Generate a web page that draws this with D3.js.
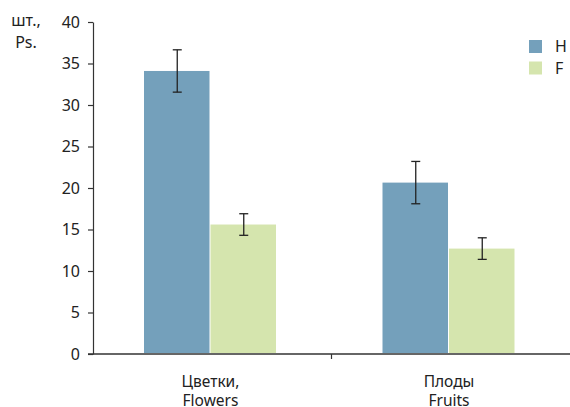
<!DOCTYPE html>
<html lang="ru">
<head>
    <meta charset="UTF-8">
    <title>Цветки / Плоды</title>
    <script src="https://d3js.org/d3.v7.min.js"></script>
    <style>
      body { margin: 0; background: #fff; }
      text { font-family: "Noto Sans", "Open Sans", sans-serif; fill: #222; }
    </style>
</head>
<body>
<div class="chart"></div>
<script>
  const categories = [["Цветки,", "Flowers"], ["Плоды", "Fruits"]];
  const series = ["H", "F"];
  const means = { H: [34.1, 20.65], F: [15.6, 12.7] };
  const errs = { H: [2.55, 2.55], F: [1.3, 1.3] };
  const yTicks = [0, 5, 10, 15, 20, 25, 30, 35, 40];
  const colors = { H: "#74a0bb", F: "#d5e5ae" };

  const W = 570, H = 407;
  const m = { left: 93, top: 22, bottom: 354 };

  const svg = d3.select('.chart').append('svg').attr('width', W).attr('height', H);

  const y = d3.scaleLinear().domain([0, 40]).range([m.bottom, m.top]);
  const x0 = d3.scaleBand().domain(categories.map(c => c[1])).range([m.left, W]);
  const x1 = d3.scaleBand().domain(series).range([51, 184]);

  // y axis
  const yAxis = d3.axisLeft(y).tickValues(yTicks).tickSize(5).tickSizeOuter(0);
  const gy = svg.append('g').attr('transform', `translate(${m.left} 0)`).call(yAxis);
  gy.select('.domain').attr('stroke', '#333').attr('stroke-width', 1.2);
  gy.selectAll('.tick line').attr('stroke', '#333').attr('stroke-width', 1.2);
  gy.selectAll('.tick text').attr('x', -13).attr('font-size', 16).attr('fill', '#222')
    .style('font-family', '"Noto Sans", sans-serif');

  // x axis line and separator tick
  svg.append('line').attr('x1', 88).attr('x2', W).attr('y1', m.bottom).attr('y2', m.bottom)
    .attr('stroke', '#333').attr('stroke-width', 1.4);
  const sep = x0(categories[1][1]);
  svg.append('line').attr('x1', sep).attr('x2', sep).attr('y1', m.bottom).attr('y2', m.bottom + 5)
    .attr('stroke', '#333').attr('stroke-width', 1.2);

  // bars
  const groups = svg.selectAll('.grp').data(categories).enter().append('g')
    .attr('transform', d => `translate(${x0(d[1])} 0)`);

  groups.each(function(c, i) {
    const g = d3.select(this);
    series.forEach(s => {
      const v = means[s][i], e = errs[s][i];
      const bx = x1(s);
      g.append('rect').attr('x', bx).attr('y', y(v))
        .attr('width', x1.bandwidth() - 1).attr('height', y(0) - y(v) - 1)
        .attr('fill', colors[s]);
      const cx = bx + x1.bandwidth() / 2;
      g.append('line').attr('x1', cx).attr('x2', cx).attr('y1', y(v + e)).attr('y2', y(v - e))
        .attr('stroke', '#222').attr('stroke-width', 1.3);
      [v + e, v - e].forEach(t => {
        g.append('line').attr('x1', cx - 4.5).attr('x2', cx + 4.5).attr('y1', y(t)).attr('y2', y(t))
          .attr('stroke', '#222').attr('stroke-width', 1.3);
      });
    });
    const lx = x1.range()[0] + (x1.range()[1] - x1.range()[0]) / 2;
    g.append('text').attr('x', lx).attr('y', 387).attr('text-anchor', 'middle')
      .attr('font-size', 15.5).text(c[0]);
    g.append('text').attr('x', lx).attr('y', 406).attr('text-anchor', 'middle')
      .attr('font-size', 15.5).text(c[1]);
  });

  // y label
  svg.append('text').attr('x', 26).attr('y', 26).attr('text-anchor', 'middle')
    .attr('font-size', 16).text('шт.,');
  svg.append('text').attr('x', 26).attr('y', 48).attr('text-anchor', 'middle')
    .attr('font-size', 16).text('Ps.');

  // legend
  const lg = svg.append('g').attr('transform', 'translate(529 40)');
  series.forEach((s, i) => {
    lg.append('rect').attr('x', 0).attr('y', i * 21.5).attr('width', 13).attr('height', 13)
      .attr('fill', colors[s]);
    lg.append('text').attr('x', 26).attr('y', i * 21.5 + 12).attr('font-size', 16).text(s);
  });
</script>
</body>
</html>
